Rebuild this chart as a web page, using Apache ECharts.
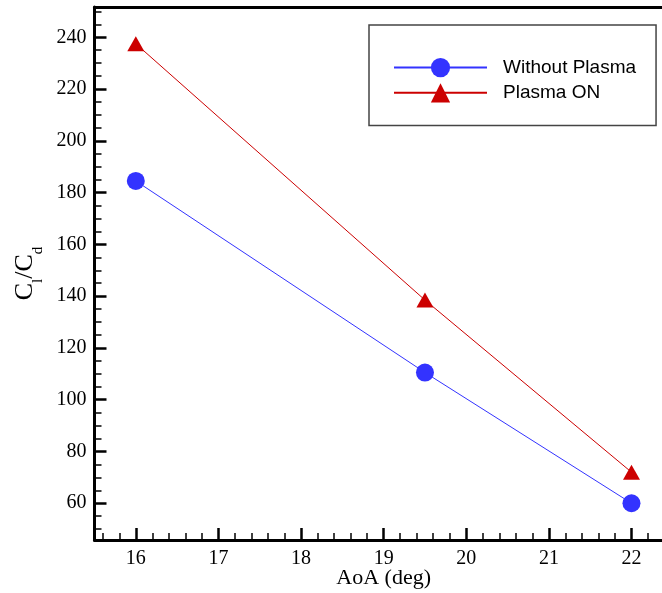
<!DOCTYPE html>
<html>
<head>
<meta charset="utf-8">
<script src="https://cdn.jsdelivr.net/npm/echarts@6/dist/echarts.min.js"></script>
<style>
html,body{margin:0;padding:0;background:#fff;}
#chart{width:662px;height:593px;}
</style>
</head>
<body>
<div id="chart"></div>
<script>
// ---- data ----
const aoa = [16, 19.5, 22];
const withoutPlasma = [184.5, 110.5, 60];
const plasmaOn = [237.5, 138.5, 72];
const seriesNames = ['Without Plasma', 'Plasma ON'];

// ---- tick labels ----
const xMajorTicks = [16, 17, 18, 19, 20, 21, 22];
const xMinorTicks = [15.6, 15.8, 16.2, 16.4, 16.6, 16.8, 17.2, 17.4, 17.6, 17.8, 18.2, 18.4, 18.6, 18.8, 19.2, 19.4, 19.6, 19.8, 20.2, 20.4, 20.6, 20.8, 21.2, 21.4, 21.6, 21.8, 22.2, 22.4];
const yMajorTicks = [60, 80, 100, 120, 140, 160, 180, 200, 220, 240];
const yMinorTicks = [50, 55, 65, 70, 75, 85, 90, 95, 105, 110, 115, 125, 130, 135, 145, 150, 155, 165, 170, 175, 185, 190, 195, 205, 210, 215, 225, 230, 235, 245, 250];

const X_MIN = 15.5, X_MAX = 22.5, Y_MIN = 45.8, Y_MAX = 251.7;

const chart = echarts.init(document.getElementById('chart'), null, {renderer: 'canvas'});

const serif = 'Liberation Serif';
const sans = 'Liberation Sans';

function pairs(xs, ys) { return xs.map((x, i) => [x, ys[i]]); }

const baseX = {
  type: 'value', min: X_MIN, max: X_MAX, gridIndex: 0,
  splitLine: {show: false}
};
const baseY = {
  type: 'value', min: Y_MIN, max: Y_MAX, gridIndex: 0,
  splitLine: {show: false}
};

const option = {
  animation: false,
  backgroundColor: '#fff',
  grid: {left: 94.5, top: 7, width: 578.3, height: 533, containLabel: false, outerBoundsMode: 'none'},
  legend: {
    data: seriesNames,
    orient: 'vertical',
    left: 369, top: 25,
    itemWidth: 93, itemHeight: 24, itemGap: 6,
    padding: [33, 20, 23, 24],
    borderColor: '#444', borderWidth: 1.5,
    textStyle: {fontFamily: sans, fontSize: 19, color: '#000', padding: [0, 0, 0, 11]}
  },
  xAxis: [
    Object.assign({}, baseX, {
      position: 'bottom',
      axisLine: {onZero: false, lineStyle: {color: '#000', width: 3}},
      axisTick: {inside: true, length: 12, customValues: xMajorTicks, lineStyle: {color: '#000', width: 2.5}},
      axisLabel: {customValues: xMajorTicks, margin: 9, fontFamily: serif, fontSize: 20, color: '#000'},
      name: 'AoA (deg)', nameLocation: 'middle', nameGap: 27, nameMoveOverlap: false,
      nameTextStyle: {fontFamily: serif, fontSize: 22, color: '#000'}
    }),
    Object.assign({}, baseX, {
      position: 'bottom',
      axisLine: {show: false, onZero: false},
      axisTick: {inside: true, length: 7, customValues: xMinorTicks, lineStyle: {color: '#000', width: 1.5}},
      axisLabel: {show: false}
    }),
    Object.assign({}, baseX, {
      position: 'top',
      axisLine: {onZero: false, lineStyle: {color: '#000', width: 3}},
      axisTick: {show: false},
      axisLabel: {show: false}
    })
  ],
  yAxis: [
    Object.assign({}, baseY, {
      position: 'left',
      axisLine: {onZero: false, lineStyle: {color: '#000', width: 3}},
      axisTick: {inside: true, length: 12, customValues: yMajorTicks, lineStyle: {color: '#000', width: 2.5}},
      axisLabel: {customValues: yMajorTicks, margin: 8, fontFamily: serif, fontSize: 20, color: '#000'},
      name: '{c|C}{s|l}{c|/C}{s|d}', nameLocation: 'middle', nameRotate: 90, nameGap: 49, nameMoveOverlap: false,
      nameTextStyle: {
        color: '#000',
        rich: {
          c: {fontFamily: serif, fontSize: 26, color: '#000', lineHeight: 40, verticalAlign: 'middle'},
          s: {fontFamily: serif, fontSize: 15, color: '#000', lineHeight: 16, verticalAlign: 'bottom'}
        }
      }
    }),
    Object.assign({}, baseY, {
      position: 'left',
      axisLine: {show: false, onZero: false},
      axisTick: {inside: true, length: 7, customValues: yMinorTicks, lineStyle: {color: '#000', width: 1.5}},
      axisLabel: {show: false}
    })
  ],
  series: [
    {
      name: seriesNames[0], type: 'line', xAxisIndex: 0, yAxisIndex: 0,
      data: pairs(aoa, withoutPlasma),
      symbol: 'circle', symbolSize: 18,
      itemStyle: {color: '#3333ff'},
      lineStyle: {color: '#3333ff', width: 1}
    },
    {
      name: seriesNames[1], type: 'line', xAxisIndex: 0, yAxisIndex: 0,
      data: pairs(aoa, plasmaOn),
      symbol: 'triangle', symbolSize: [17, 15],
      itemStyle: {color: '#cc0000'},
      lineStyle: {color: '#cc0000', width: 1}
    }
  ]
};

chart.setOption(option);
</script>
</body>
</html>
